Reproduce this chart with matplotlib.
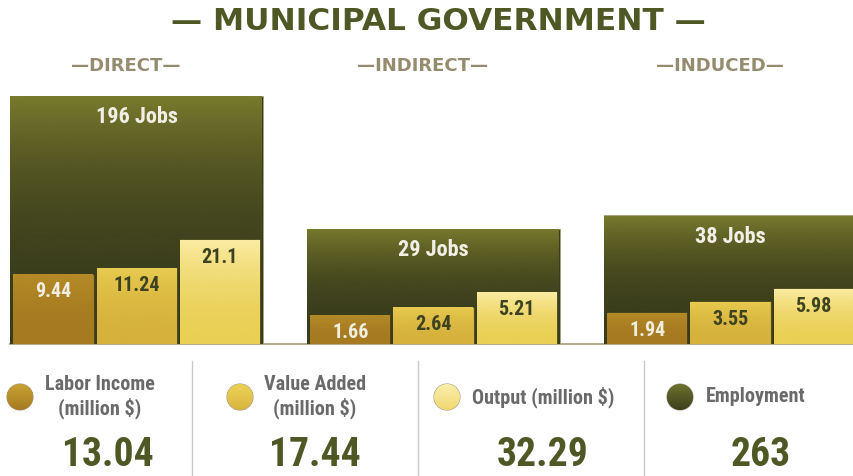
import numpy as np
import matplotlib
matplotlib.use("Agg")
from matplotlib import pyplot as plt
from matplotlib import font_manager as fm
from matplotlib.colors import LinearSegmentedColormap
from matplotlib.patches import Circle
from matplotlib.lines import Line2D

# pick a narrow sans if one is installed
COND = {f.name for f in fm.fontManager.ttflist
        if f.stretch in ("condensed", "semi-condensed", "extra-condensed", "ultra-condensed")}
PREF = ["Liberation Sans Narrow", "Roboto Condensed", "Open Sans Condensed", "Noto Sans", "DejaVu Sans"]
FONT = next((n for n in PREF if n in COND), None) or (sorted(COND)[0] if COND else "Roboto")
plt.rcParams['font.family'] = [FONT, 'DejaVu Sans']
plt.rcParams['font.stretch'] = 'condensed'
WIDE = dict(family=['DejaVu Sans'], stretch='normal')  # stands in for the letter-spaced headings

# data
GROUPS = ["DIRECT", "INDIRECT", "INDUCED"]
JOBS = [196, 29, 38]
LABOR_INCOME = [9.44, 1.66, 1.94]
VALUE_ADDED = [11.24, 2.64, 3.55]
OUTPUT = [21.1, 5.21, 5.98]
LEGEND_LABELS = ["Labor Income\n(million $)", "Value Added\n(million $)",
                 "Output (million $)", "Employment"]
TOTALS = ["13.04", "17.44", "32.29", "263"]

W, H = 854, 476
OLIVE = "#4e5825"
TAN = "#958c70"
GREY = "#6a6a6a"

# (top colour, bottom colour)
GRAD_JOBS = ("#797b2e", "#393c1b")
GRAD_SERIES = [("#b58c28", "#a67a21"), ("#e9cc52", "#d6b23c"), ("#fceda6", "#e9d055")]
LABEL_COLORS = ["#f1ede0", "#3d4220", "#3d4220"]


def fx(px):
    return px / W


def fy(py):
    return 1 - py / H


def gradient_fill(ax, patch, top, bottom):
    cmap = LinearSegmentedColormap.from_list("g", [bottom, top])
    bb = patch.get_path().get_extents(patch.get_patch_transform())
    grad = np.linspace(0, 1, 256).reshape(-1, 1)
    im = ax.imshow(grad, cmap=cmap, extent=(bb.x0, bb.x1, bb.y0, bb.y1), origin="lower",
                   aspect="auto", interpolation="bicubic", zorder=patch.get_zorder() + 0.01)
    im.set_clip_path(patch)


fig = plt.figure(figsize=(W / 100, H / 100), dpi=100)

# ---- bars
ax = fig.add_axes([0, fy(344), 1, (344 - 90) / H])
ax.set_yscale("function", functions=(lambda v: np.power(np.clip(v, 0, None), 0.4),
                                     lambda v: np.power(np.clip(v, 0, None), 2.5)))
x = np.arange(len(GROUPS))
boxes = ax.bar(x, JOBS, width=0.85, color=GRAD_JOBS[1], edgecolor="#a9a27e", linewidth=0.6, zorder=2)
for b, j in zip(boxes, JOBS):
    gradient_fill(ax, b, *GRAD_JOBS)
    ax.annotate(f"{j} Jobs", (b.get_x() + b.get_width() / 2, j), xytext=(0, -15.5),
                textcoords="offset points", ha="center", va="center", fontsize=16,
                fontweight="bold", color="#f2f0e6", zorder=5)
ax.axhline(0, xmin=fx(10), color="#b5ad92", lw=1.5, zorder=1, clip_on=False)
ax.set_xlim(-0.46, 2.416)
ax.set_ylim(0, 208)
ax.axis("off")

ax2 = ax.twinx()
ax2.set_yscale("function", functions=(lambda v: np.sqrt(np.clip(v, 0, None)), np.square))
offsets = [-0.28, 0, 0.28]
for i, vals in enumerate([LABOR_INCOME, VALUE_ADDED, OUTPUT]):
    bars = ax2.bar(x + offsets[i], vals, width=0.27, color=GRAD_SERIES[i][1],
                   edgecolor="#3a3d1c", linewidth=0.5, zorder=2)
    for b, v in zip(bars, vals):
        gradient_fill(ax2, b, *GRAD_SERIES[i])
        ax2.annotate(f"{v:g}", (b.get_x() + b.get_width() / 2, v), xytext=(0, -13),
                     textcoords="offset points", ha="center", va="center", fontsize=14.5,
                     fontweight="bold", color=LABEL_COLORS[i], zorder=5)
ax2.set_xlim(-0.46, 2.416)
ax2.set_ylim(0, 124)
ax2.axis("off")

# ---- title and group headings
fig.text(fx(438), fy(21), "— MUNICIPAL GOVERNMENT —", ha="center", va="center",
         fontsize=22.5, fontweight="bold", color=OLIVE, **WIDE)
for g, cx in zip(GROUPS, [126, 423, 720]):
    fig.text(fx(cx), fy(66), f"—{g}—", ha="center", va="center", fontsize=13,
             fontweight="bold", color=TAN, **WIDE)

# ---- legend / totals strip (y measured upwards from figure bottom, in pixels)
lg = fig.add_axes([0, 0, 1, (H - 340) / H])
for sx in [192, 418, 644]:
    lg.add_line(Line2D([sx, sx], [0, H - 361], color="#c9c9c9", lw=1))

legend_grads = [("#caa233", "#a57a22"), ("#ecd156", "#d8b640"), ("#fbeeae", "#efd871"),
                ("#6e722c", "#3c3f1d")]
circle_x = [20, 240, 447, 680]
text_x = [100, 315, 472, 706]
text_ha = ["center", "center", "left", "left"]
total_x = [108, 315, 543, 761]
for k in range(4):
    c = Circle((circle_x[k], H - 397), 13, facecolor=legend_grads[k][1], edgecolor="#a09a88",
               lw=0.8, zorder=2)
    lg.add_patch(c)
    gradient_fill(lg, c, *legend_grads[k])
    lg.text(text_x[k], H - 397, LEGEND_LABELS[k], ha=text_ha[k], va="center", fontsize=14.5,
            fontweight="bold", color=GREY, linespacing=1.2, multialignment="center")
    lg.text(total_x[k], H - 455, TOTALS[k], ha="center", va="center", fontsize=28.5,
            fontweight="bold", color=OLIVE)
lg.set_xlim(0, W)
lg.set_ylim(0, H - 340)
lg.axis("off")

fig.savefig("out.png", dpi=100)
